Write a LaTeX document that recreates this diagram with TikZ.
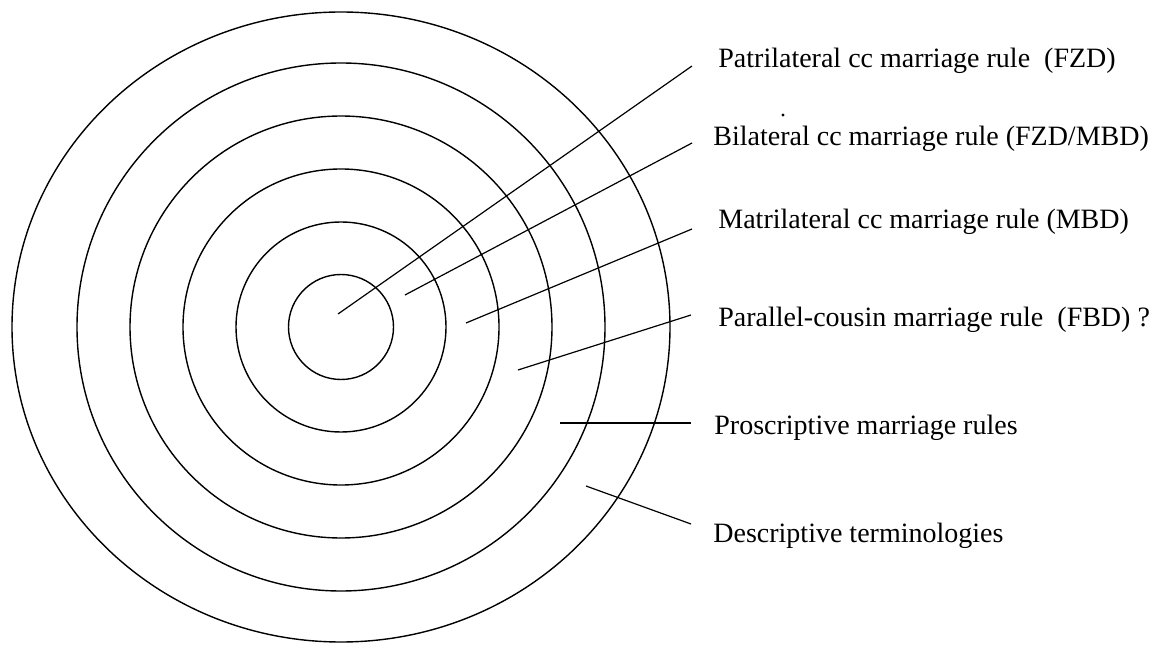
\documentclass[tikz,border=0pt]{standalone}
\usepackage{fontspec}
\setmainfont{Liberation Serif}
\usetikzlibrary{calc}
\tikzstyle{ring}=[draw=black,line width=0.7pt]
\tikzstyle{lead}=[draw=black,line width=0.6pt]
\tikzstyle{lbl}=[anchor=base west,inner sep=0pt,font=\fontsize{14}{17}\selectfont]
\tikzstyle{none}=[inner sep=0pt]

\begin{document}
\begin{tikzpicture}[x=0.5pt, y=-0.5pt]
            \useasboundingbox (0,0) rectangle (1168,652);
            \node [style=none] (0) at (341, 327) {}; % centre
            \draw [style=ring] (0.center) circle (26.25pt);
            \draw [style=ring] (0.center) circle (52.5pt);
            \draw [style=ring] (0.center) circle (79pt);
            \draw [style=ring] (0.center) circle (105.5pt);
            \draw [style=ring] (0.center) circle (132pt);
            \draw [style=ring] (0.center) ellipse (164.5pt and 157.5pt);
            \node [style=lbl] (1) at (718, 68) {Patrilateral cc marriage rule\ \ (FZD)};
            \node [style=lbl] (2) at (713, 146) {Bilateral cc marriage rule (FZD/MBD)};
            \node [style=lbl] (3) at (718, 229) {Matrilateral cc marriage rule (MBD)};
            \node [style=lbl] (4) at (718, 327) {Parallel-cousin marriage rule\ \ (FBD) ?};
            \node [style=lbl] (5) at (714, 435) {Proscriptive marriage rules};
            \node [style=lbl] (6) at (713, 542) {Descriptive terminologies};
            \node [style=none] (1a) at (338, 314) {};
            \node [style=none] (1b) at (692, 66) {};
            \node [style=none] (2a) at (405, 295) {};
            \node [style=none] (2b) at (692, 143) {};
            \node [style=none] (3a) at (466, 323) {};
            \node [style=none] (3b) at (692, 229) {};
            \node [style=none] (4a) at (518, 370) {};
            \node [style=none] (4b) at (691, 315) {};
            \node [style=none] (5a) at (560, 423) {};
            \node [style=none] (5b) at (691, 423) {};
            \node [style=none] (6a) at (586, 486) {};
            \node [style=none] (6b) at (691, 524) {};
            \draw [style=lead] (1a.center) to (1b.center);
            \draw [style=lead] (2a.center) to (2b.center);
            \draw [style=lead] (3a.center) to (3b.center);
            \draw [style=lead] (4a.center) to (4b.center);
            \draw [style=lead] (5a.center) to (5b.center);
            \draw [style=lead] (6a.center) to (6b.center);
            \fill (783, 115) circle (0.8pt); % stray dot
    \end{tikzpicture}
\end{document}
